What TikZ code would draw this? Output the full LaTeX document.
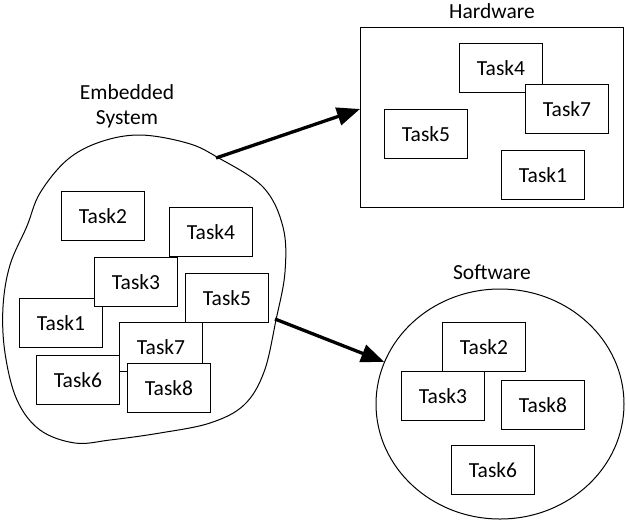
\documentclass[tikz,border=0pt]{standalone}
\usepackage{fontspec}
\setmainfont{Carlito}
\usetikzlibrary{arrows.meta,shapes.geometric}
\begin{document}
\begin{tikzpicture}[x=1pt,y=-1pt,
  font=\fontsize{21.5}{25}\selectfont,
  task/.style={draw,fill=white,line width=1pt,minimum width=83pt,minimum height=49pt,
    inner sep=0pt,anchor=north west},
  group/.style={draw,line width=1pt},
  label/.style={inner sep=0pt},
  flow/.style={line width=3.3pt,-{Triangle[length=23pt,width=18pt]}}]
\useasboundingbox (0,0) rectangle (626,523);

% embedded system outline
\draw[line width=1pt] plot[smooth cycle,tension=0.6] coordinates {
  (140,135) (187,143) (217,157) (263,187) (283,227) (285,272)
  (276,320) (264,372) (244,405) (210,423) (160,433) (110,440) (75,443)
  (40,430) (17,400) (5,353) (3,307) (10,265) (27,226)
  (40,193) (67,160) (100,142)};
\node[label,align=center] (eslabel) at (127,106) {Embedded\\System};

\node[task] (e2) at (61,191) {Task2};
\node[task] (e4) at (169,207) {Task4};
\node[task] (e1) at (19,298) {Task1};
\node[task] (e3) at (94,257) {Task3};
\node[task] (e5) at (185,273) {Task5};
\node[task] (e6) at (36,355) {Task6};
\node[task] (e7) at (119,322) {Task7};
\node[task] (e8) at (127,363) {Task8};

% hardware partition
\node[group,minimum width=263pt,minimum height=180pt,anchor=north west,inner sep=0pt] (hw) at (360,27) {};
\node[label] (hwlabel) at (492,11) {Hardware};
\node[task] (h4) at (459,43) {Task4};
\node[task] (h7) at (525,84) {Task7};
\node[task] (h5) at (384,109) {Task5};
\node[task] (h1) at (501,150) {Task1};

% software partition
\node[group,ellipse,minimum width=248pt,minimum height=230pt,inner sep=0pt] (sw) at (500,404) {};
\node[label] (swlabel) at (492,272) {Software};
\node[task] (s2) at (442,322) {Task2};
\node[task] (s3) at (401,371) {Task3};
\node[task] (s8) at (501,380) {Task8};
\node[task] (s6) at (451,445) {Task6};

% mapping arrows
\coordinate (es-hw) at (216,158);
\coordinate (es-sw) at (275,319);
\coordinate (hw-in) at (360,109);
\draw[flow] (es-hw) -- (hw-in);
\draw[flow] (es-sw) -- (sw.160);
\end{tikzpicture}
\end{document}
